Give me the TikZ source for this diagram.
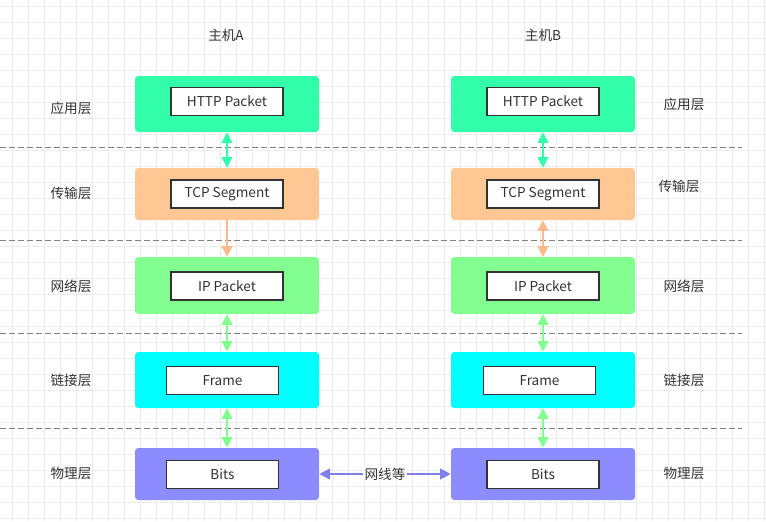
\documentclass[tikz,border=0pt]{standalone}
\usepackage{fontspec}
\setmainfont{Noto Sans CJK SC}
\usetikzlibrary{arrows.meta}

\definecolor{httpc}{HTML}{33FFAA}
\definecolor{tcpc}{HTML}{FFC794}
\definecolor{tcparr}{HTML}{FFB98A}
\definecolor{ipc}{HTML}{82FF90}
\definecolor{framec}{HTML}{00FFFF}
\definecolor{bitsc}{HTML}{8C8CFF}
\definecolor{wirec}{HTML}{7F7FF0}
\definecolor{textc}{HTML}{333333}

\tikzset{
  layerbox/.style={rounded corners=2.5pt, minimum width=138pt, inner sep=0pt},
  pktbox/.style={draw=textc, line width=1.1pt, fill=white, minimum width=84pt, minimum height=21pt, inner sep=0pt, text=textc},
  lbl/.style={text=textc, inner sep=1pt},
  link/.style={line width=1.5pt, {Triangle[length=8pt,width=8pt]}-{Triangle[length=8pt,width=8pt]}},
  gridline/.style={draw=black!8, line width=0.6pt},
  sep/.style={draw=black!50, line width=0.75pt, dash pattern=on 4.5pt off 2.25pt}
}

\begin{document}
\begin{tikzpicture}[x=0.75pt, y=-0.75pt, font=\fontsize{10.2}{12}\selectfont]
\useasboundingbox (0,0) rectangle (766,521);
% grid
\foreach \gx in {12.7,28.7,...,766} \draw[gridline] (\gx,0) -- (\gx,521);
\foreach \gy in {6,22,...,521} \draw[gridline] (0,\gy) -- (766,\gy);
% layer borders
\foreach \sy in {147,240,333,428} \draw[sep] (0,\sy) -- (742,\sy);

% host A
\node[lbl] (hostA) at (226,35) {主机A};
\node[layerbox, fill=httpc, minimum height=42pt] (appA) at (227,104) {};
\node[pktbox] (httpA) at (227,101.5) {HTTP Packet};
\node[layerbox, fill=tcpc, minimum height=39pt] (tranA) at (227,194) {};
\node[pktbox] (tcpA) at (227,194) {TCP Segment};
\node[layerbox, fill=ipc, minimum height=42.5pt] (netA) at (227,285.5) {};
\node[pktbox] (ipA) at (227,286) {IP Packet};
\node[layerbox, fill=framec, minimum height=42pt] (linkA) at (227,380) {};
\node[pktbox] (frameA) at (222.5,380.5) {Frame};
\node[layerbox, fill=bitsc, minimum height=39pt] (phyA) at (227,474) {};
\node[pktbox] (bitsA) at (222.5,474.5) {Bits};

% host B
\node[lbl] (hostB) at (543,35) {主机B};
\node[layerbox, fill=httpc, minimum height=42pt] (appB) at (543,104) {};
\node[pktbox] (httpB) at (543,101.5) {HTTP Packet};
\node[layerbox, fill=tcpc, minimum height=39pt] (tranB) at (543,194) {};
\node[pktbox] (tcpB) at (543,194) {TCP Segment};
\node[layerbox, fill=ipc, minimum height=42.5pt] (netB) at (543,285.5) {};
\node[pktbox] (ipB) at (543,286) {IP Packet};
\node[layerbox, fill=framec, minimum height=42pt] (linkB) at (543,380) {};
\node[pktbox] (frameB) at (539.5,380.5) {Frame};
\node[layerbox, fill=bitsc, minimum height=39pt] (phyB) at (543,474) {};
\node[pktbox] (bitsB) at (543,474.5) {Bits};

% layer names
\node[lbl] (appLA) at (71,108) {应用层};
\node[lbl] (tranLA) at (71,193) {传输层};
\node[lbl] (netLA) at (71,286) {网络层};
\node[lbl] (linkLA) at (71,380) {链接层};
\node[lbl] (phyLA) at (71,473) {物理层};
\node[lbl] (appLB) at (684,104) {应用层};
\node[lbl] (tranLB) at (679,186) {传输层};
\node[lbl] (netLB) at (684,286) {网络层};
\node[lbl] (linkLB) at (684,380) {链接层};
\node[lbl] (phyLB) at (684,473) {物理层};

% links
\draw[link, httpc] (appA.south) -- (tranA.north);
\draw[link, httpc] (appB.south) -- (tranB.north);
\draw[line width=1.5pt, tcparr, -{Triangle[length=8pt,width=8pt]}] (tranA.south) -- (netA.north);
\draw[link, tcparr] (tranB.south) -- (netB.north);
\draw[link, ipc] (netA.south) -- (linkA.north);
\draw[link, ipc] (netB.south) -- (linkB.north);
\draw[link, ipc] (linkA.south) -- (phyA.north);
\draw[link, ipc] (linkB.south) -- (phyB.north);
\draw[link, wirec] (phyA.east) -- node[fill=white, text=textc, inner sep=1.5pt] (wire) {网线等} (phyB.west);
\end{tikzpicture}
\end{document}
